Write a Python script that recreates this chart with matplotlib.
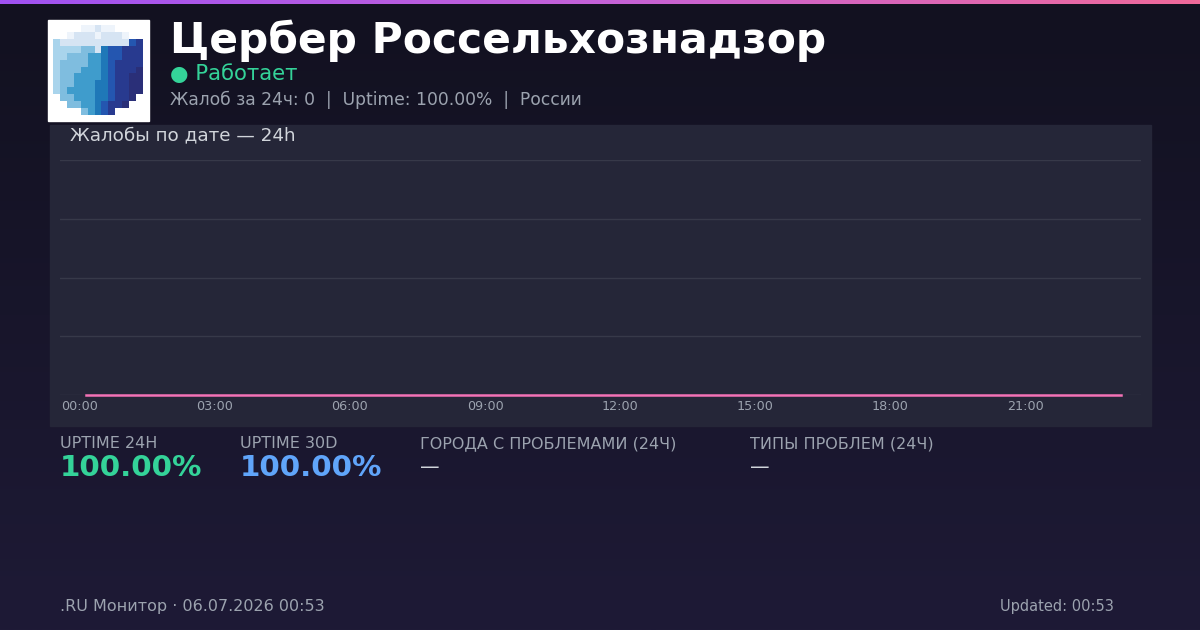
import numpy as np
import matplotlib.pyplot as plt
from matplotlib.colors import LinearSegmentedColormap, to_rgb
from matplotlib.patches import Rectangle
import matplotlib.transforms as mtransforms

#---------------------------------------------------------
# Dados
#---------------------------------------------------------
title = 'Цербер Россельхознадзор'
status = '● Работает'
subtitle = 'Жалоб за 24ч: 0  |  Uptime: 100.00%  |  России'
chart_title = 'Жалобы по дате — 24h'

hours = list(range(24))
complaints = [0, 0, 0, 0, 0, 0, 0, 0, 0, 0, 0, 0,
              0, 0, 0, 0, 0, 0, 0, 0, 0, 0, 0, 0]
tick_hours = [0, 3, 6, 9, 12, 15, 18, 21]
tick_labels = ['00:00', '03:00', '06:00', '09:00', '12:00', '15:00', '18:00', '21:00']

stat_labels = ['UPTIME 24H', 'UPTIME 30D', 'ГОРОДА С ПРОБЛЕМАМИ (24Ч)', 'ТИПЫ ПРОБЛЕМ (24Ч)']
stat_values = ['100.00%', '100.00%', '—', '—']

footer_left = '.RU Монитор · 06.07.2026 00:53'
footer_right = 'Updated: 00:53'

# logo (pixel art do cubo)
logo_rows = [
    '....aabaa....',
    '..abbbabbba..',
    'cbbbbbbbbbbgh',
    'ccccddbfgghhh',
    'ccdddeefgghhh',
    'cddddeefghhhh',
    'cdddeeefghhhi',
    'cddeeeefghhii',
    'cddeeeffghhii',
    'cdeeeeffghhii',
    '.ddeeeffghhi.',
    '..ddeefghhi..',
    '....defgh....',
]
logo_pal = {'.': '#ffffff', 'a': '#eef4fb', 'b': '#d6e4f3', 'c': '#a9d4ec',
            'd': '#7fbddf', 'e': '#3f9ccc', 'f': '#1f78b8', 'g': '#2456b0',
            'h': '#283a8f', 'i': '#2a2f78'}

#---------------------------------------------------------
# Figura
#---------------------------------------------------------
W, H = 1200, 630
fig = plt.figure(figsize=(12, 6.3), dpi=100)

bg = fig.add_axes([0, 0, 1, 1])
bg.set_xlim(0, W)
bg.set_ylim(H, 0)
bg.axis('off')

# fundo em gradiente vertical
cmap_bg = LinearSegmentedColormap.from_list('bg', ['#121120', '#1e1a36'])
grad = np.linspace(0, 1, 256).reshape(-1, 1)
bg.imshow(grad, cmap=cmap_bg, aspect='auto', extent=(0, W, H, 0), zorder=0)

# faixa superior
cmap_top = LinearSegmentedColormap.from_list('top', ['#a052f2', '#c462d8', '#f06a9a'])
bg.imshow(np.linspace(0, 1, 256).reshape(1, -1), cmap=cmap_top, aspect='auto',
          extent=(0, W, 4, 0), zorder=1)

# logo
bg.add_patch(Rectangle((48, 20), 101, 101, color='white', zorder=2))
logo = np.array([[to_rgb(logo_pal[ch]) for ch in row] for row in logo_rows])
bg.imshow(logo, extent=(53, 143, 115, 25), interpolation='nearest', zorder=3)

# textos do cabeçalho
bg.text(170, 41, title, color='white', fontsize=30.5, fontweight='bold', va='center', ha='left')
bg.text(170, 74, status, color='#34d399', fontsize=15.3, va='center', ha='left')
bg.text(170, 100, subtitle, color='#9ca3af', fontsize=12.3, va='center', ha='left')

# painel do gráfico
bg.add_patch(Rectangle((50, 125), 1101, 301, color='#252638', zorder=2))
bg.text(70, 135, chart_title, color='#d1d5db', fontsize=13.2, va='center', ha='left', zorder=3)

# estatísticas
stat_x = [60, 240, 420, 750]
stat_colors = ['#34d399', '#60a5fa', '#d1d5db', '#d1d5db']
for x, lab, val, c in zip(stat_x, stat_labels, stat_values, stat_colors):
    bg.text(x, 444, lab, color='#9ca3af', fontsize=11.5, va='center', ha='left')
    if val == '—':
        bg.text(x, 467, val, color=c, fontsize=14, va='center', ha='left')
    else:
        bg.text(x, 468, val, color=c, fontsize=21.2, fontweight='bold', va='center', ha='left')

# rodapé
bg.text(60, 607, footer_left, color='#9ca3af', fontsize=11.5, va='center', ha='left')
bg.text(1114, 607, footer_right, color='#9ca3af', fontsize=10.5, va='center', ha='right')

#---------------------------------------------------------
# Eixo do gráfico
#---------------------------------------------------------
x0, x1, y_top, y_base = 60, 1141, 160, 395
ax = fig.add_axes([x0 / W, (H - y_base) / H, (x1 - x0) / W, (y_base - y_top) / H])
ax.patch.set_alpha(0)
px_per_h = 45
ax.set_xlim((x0 - 86) / px_per_h, (x1 - 86) / px_per_h)
ax.set_ylim(0, 4)
ax.plot(hours, complaints, color='#f472b6', lw=1.8, clip_on=False, zorder=3)

ax.set_yticks([0, 1, 2, 3, 4])
ax.set_yticklabels([])
ax.grid(axis='y', color='#373949', lw=1)
ax.set_xticks(tick_hours)
ax.set_xticklabels(tick_labels, color='#9ca3af', fontsize=9.2)
ax.tick_params(length=0, pad=3.5)
ax.tick_params(axis='y', length=0)
for s in ax.spines.values():
    s.set_visible(False)

offset = mtransforms.ScaledTranslation(-6 / 100, 0, fig.dpi_scale_trans)
for lbl in ax.get_xticklabels():
    lbl.set_transform(lbl.get_transform() + offset)

plt.savefig('out.png', dpi=100)
